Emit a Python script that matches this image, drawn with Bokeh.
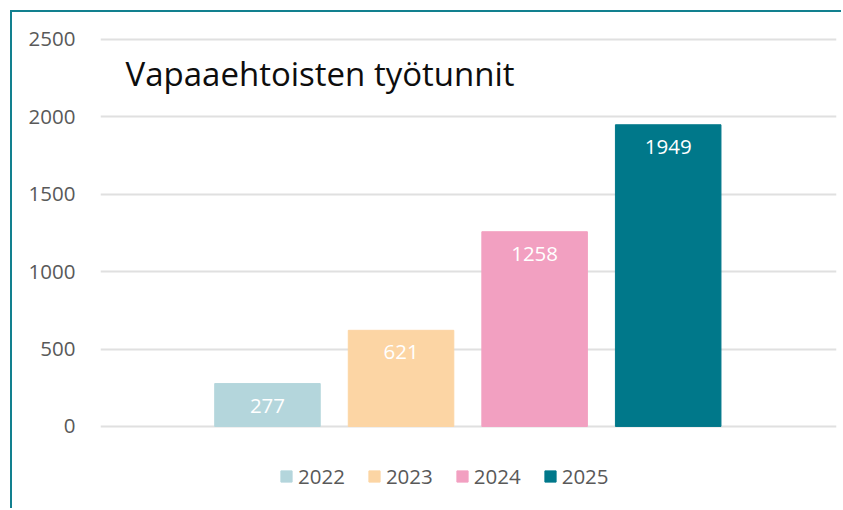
from bokeh.plotting import figure
from bokeh.models import Range1d, FixedTicker, Label, Legend, LegendItem, ColumnDataSource
from bokeh.core.properties import value
from bokeh.embed import file_html
from bokeh.resources import INLINE

title_text = "Vapaaehtoisten työtunnit"
years = ["2022", "2023", "2024", "2025"]
hours = [277, 621, 1258, 1949]
colors = ["#b4d6dc", "#fcd5a4", "#f2a0c1", "#00788a"]
y_ticks = [0, 500, 1000, 1500, 2000, 2500]

FONT = "Open Sans"

src = ColumnDataSource(dict(
    x=list(range(len(years))),
    top=hours,
    color=colors,
    year=years,
    label=[str(h) for h in hours],
))

p = figure(width=831, height=498,
           x_range=Range1d(-1.25, 4.26), y_range=Range1d(-543, 2558),
           output_backend="svg", toolbar_location=None,
           min_border_left=88, min_border_right=7,
           min_border_top=18, min_border_bottom=0)
p.margin = (10, 0, 0, 10)
p.styles = {"border-left": "2px solid #12808f", "border-top": "2px solid #12808f"}
p.outline_line_color = None
p.background_fill_color = "white"
p.border_fill_color = "white"

p.xaxis.visible = False
p.xgrid.visible = False

yax = p.yaxis[0]
yax.ticker = FixedTicker(ticks=y_ticks)
yax.axis_line_color = None
yax.major_tick_line_color = None
yax.minor_tick_line_color = None
yax.major_tick_out = 0
yax.major_tick_in = 0
yax.major_label_standoff = 25
yax.major_label_text_font = FONT
yax.major_label_text_font_size = "20.5px"
yax.major_label_text_color = "#595959"

p.ygrid.grid_line_color = "#e0e0e0"
p.ygrid.grid_line_width = 2

bars = p.vbar(x="x", top="top", bottom=0, width=0.79, color="color", source=src)

p.text(x="x", y="top", text="label", source=src, text_color="white",
       text_align="center", text_baseline="middle", y_offset=22,
       text_font=value(FONT), text_font_size="20.5px")

p.add_layout(Label(x=25, y=437, x_units="screen", y_units="screen",
                   text=title_text, text_font=FONT, text_font_size="33px",
                   text_color="#0d0d0d", text_baseline="alphabetic"))

items = [LegendItem(label=years[i], renderers=[bars], index=i) for i in range(len(years))]
legend = Legend(items=items, orientation="horizontal", location=(179, 20),
                glyph_width=14, glyph_height=14, label_standoff=5, spacing=22,
                padding=0, margin=0, border_line_color=None,
                background_fill_alpha=0,
                label_text_font=FONT, label_text_font_size="20.5px",
                label_text_color="#595959")
p.add_layout(legend)

open("out.html", "w").write(file_html(p, INLINE))
